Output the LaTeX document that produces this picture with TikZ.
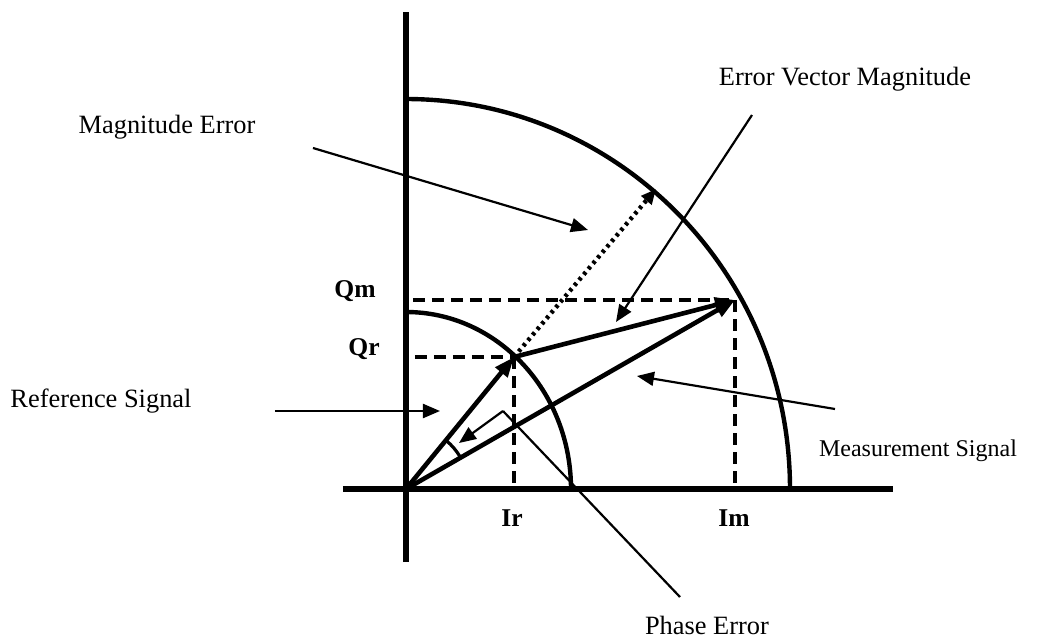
\documentclass[tikz,border=0pt]{standalone}
\usepackage{fontspec}
\setmainfont{Liberation Serif}
\usetikzlibrary{arrows.meta}
\begin{document}
\begin{tikzpicture}[x=0.5pt,y=0.5pt,
  axisline/.style={line width=2.6pt},
  vecline/.style={line width=2.3pt,-{Triangle[length=10pt,width=7.5pt]}},
  ringline/.style={line width=2.2pt},
  guideline/.style={line width=1.7pt,dash pattern=on 6pt off 3.5pt},
  dotline/.style={line width=2.2pt,dash pattern=on 1.6pt off 2pt,-{Triangle[length=7.5pt,width=6.5pt]}},
  pointer/.style={line width=1.1pt,-{Triangle[length=8.5pt,width=7pt]}},
  thinline/.style={line width=1.1pt},
  lbl/.style={font=\fontsize{13.2}{15}\selectfont,inner sep=0pt},
  axlbl/.style={font=\fontsize{12.8}{15}\selectfont\bfseries,inner sep=0pt}]
\useasboundingbox (-406,-150) rectangle (639,489);
% key points
\coordinate (O) at (0,0);
\coordinate (R) at (108,132);
\coordinate (M) at (329,189);
\coordinate (vtop) at (0,477);
\coordinate (vbot) at (0,-73);
\coordinate (hleft) at (-63,0);
\coordinate (hright) at (487,0);
% axes
\draw[axisline] (vbot) -- (vtop);
\draw[axisline] (hleft) -- (hright);
% arcs
\draw[ringline] (0,177) arc[start angle=90,end angle=0,x radius=82.5pt,y radius=88.5pt];
\draw[ringline] (0,390) arc[start angle=90,end angle=0,x radius=192pt,y radius=195pt];
% dashed guides
\coordinate (qrs) at (9,132);
\coordinate (qms) at (7,189);
\coordinate (irs) at (108,4);
\coordinate (ims) at (329,4);
\draw[guideline] (qms) -- (M);
\draw[guideline] (qrs) -- (R);
\draw[guideline] (R) -- (irs);
\draw[guideline] (M) -- (ims);
% dotted magnitude extension
\coordinate (dtip) at (250,300);
\draw[dotline] (R) -- (dtip);
% vectors
\draw[vecline] (O) -- (R);
\draw[vecline] (O) -- (M);
\draw[vecline] (R) -- (M);
% phase angle arc
\draw[line width=1.6pt] (54.6,31.4) arc[start angle=29.9,end angle=50.7,radius=31.5pt];
% labels
\node[lbl] (magerr) at (-239,362) {Magnitude Error};
\node[lbl] (evm) at (439,410) {Error Vector Magnitude};
\node[lbl] (refsig) at (-305,88) {Reference Signal};
\node[lbl,font=\fontsize{12}{14}\selectfont] (meassig) at (512,38) {Measurement Signal};
\node[lbl] (phaseerr) at (301,-136) {Phase Error};
\node[axlbl] (qm) at (-51,198) {Qm};
\node[axlbl] (qr) at (-42,140) {Qr};
\node[axlbl] (ir) at (106,-29) {Ir};
\node[axlbl] (im) at (328,-29) {Im};
% pointers
\coordinate (magS) at (-93,341);
\coordinate (magT) at (182,259);
\draw[pointer] (magS) -- (magT);
\coordinate (evmS) at (346,374);
\coordinate (evmT) at (210,167);
\draw[pointer] (evmS) -- (evmT);
\coordinate (measS) at (429,80);
\coordinate (measT) at (231,113);
\draw[pointer] (measS) -- (measT);
\coordinate (refS) at (-131,78);
\coordinate (refT) at (34,78);
\draw[pointer] (refS) -- (refT);
\coordinate (phS) at (274,-108);
\coordinate (phC) at (97,78);
\coordinate (phT) at (53,46);
\draw[thinline] (phS) -- (phC);
\draw[pointer] (phC) -- (phT);
\end{tikzpicture}
\end{document}
